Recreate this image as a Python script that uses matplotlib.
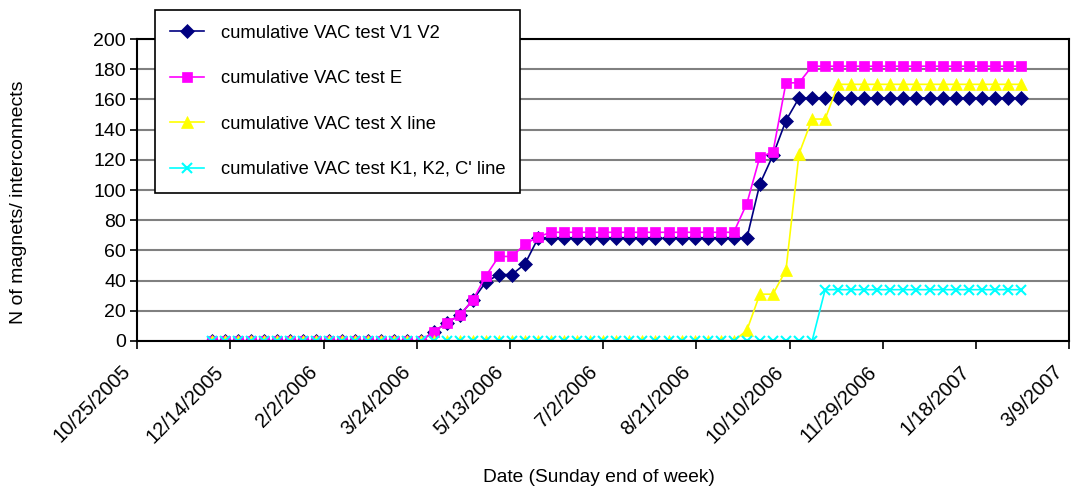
import numpy as np
import pandas as pd
import matplotlib
matplotlib.use("Agg")
import matplotlib.pyplot as plt
from matplotlib.transforms import ScaledTranslation

plt.rcParams['font.family'] = ['Liberation Sans', 'DejaVu Sans']

# weekly data, Sunday end of week
weeks = pd.date_range('2005-12-04', periods=63, freq='7D')

vac_v1v2 = [0]*17 + [6, 12, 17, 27, 39, 44, 44, 51, 68] + [68]*16 + [104, 123, 146, 161] + [161]*17
vac_e = [0]*17 + [6, 12, 17, 27, 43, 56, 56, 64, 69] + [72]*15 + [91, 122, 125, 171, 171] + [182]*17
vac_x = [0]*41 + [7, 31, 31, 47, 124, 147, 147] + [170]*15
vac_k = [0]*47 + [34]*16

series = [
    ("cumulative VAC test V1 V2", vac_v1v2, '#000080', 'D', 7.5),
    ("cumulative VAC test E", vac_e, '#FF00FF', 's', 7),
    ("cumulative VAC test X line", vac_x, '#FFFF00', '^', 8.5),
    ("cumulative VAC test K1, K2, C' line", vac_k, '#00FFFF', 'x', 7.5),
]

xmin = pd.Timestamp('2005-10-25')
xmax = pd.Timestamp('2007-03-09')
tick_dates = pd.date_range(xmin, xmax, freq='50D')

fig = plt.figure(figsize=(10.71, 4.91), dpi=100)
ax = fig.add_axes([0.128, 0.3055, 0.8705, 0.615])

for label, vals, col, mk, ms in series:
    ax.plot(weeks, vals, color=col, marker=mk, markersize=ms, linewidth=1.2,
            markeredgecolor=col, markeredgewidth=1.5 if mk == 'x' else 0.5, label=label)

ax.set_xlim(xmin, xmax)
ax.set_ylim(0, 200)
ax.set_yticks(np.arange(0, 201, 20))
ax.set_xticks(tick_dates)
ax.set_xticklabels([])
# rotated date labels, placed a little left of each tick like the excel chart
lab_trans = ax.get_xaxis_transform() + ScaledTranslation(-16/100, -21/100, fig.dpi_scale_trans)
for d in tick_dates:
    ax.text(d, 0, f"{d.month}/{d.day}/{d.year}", transform=lab_trans, rotation=45,
            ha='right', va='top', rotation_mode='anchor', fontsize=14.5, clip_on=False)
ax.tick_params(axis='y', labelsize=14, length=5, width=1.2, direction='out', pad=3)
ax.tick_params(axis='x', length=6, width=1.2, direction='out')
ax.yaxis.grid(True, color='#808080', linewidth=1.5)
ax.set_axisbelow(True)
for s in ax.spines.values():
    s.set_color('black')
    s.set_linewidth(1.5)

fig.text(0.0175, 0.589, "N of magnets/ interconnects", rotation=90, ha='center', va='center', fontsize=14)
fig.text(0.559, 0.028, "Date (Sunday end of week)", ha='center', va='center', fontsize=13.8)

leg = ax.legend(loc='upper left', bbox_to_anchor=(0.1447, 0.9796), bbox_transform=fig.transFigure,
                borderaxespad=0, fontsize=13.2, labelspacing=1.55, handlelength=1.9,
                handletextpad=0.9, borderpad=0.8, fancybox=False, framealpha=1,
                edgecolor='black')
leg.get_frame().set_linewidth(1.2)

fig.savefig("out.png", dpi=100)
